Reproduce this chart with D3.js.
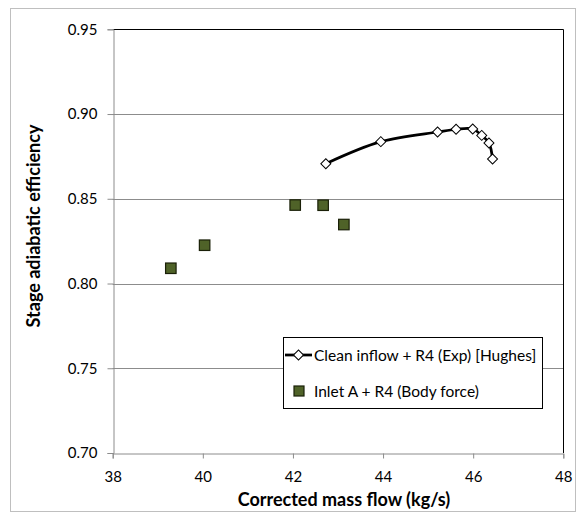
<!DOCTYPE html>
<html>
<head>
<meta charset="utf-8">
<script src="https://cdn.jsdelivr.net/npm/d3@7"></script>
<style>
  body { margin: 0; background: #fff; }
  text { font-family: Lato, "Open Sans", sans-serif; }
</style>
</head>
<body>
<svg id="chart" width="578" height="515"></svg>
<script>
// Clean inflow + R4 (Exp) [Hughes]
var cleanFlow = [42.73, 43.95, 45.21, 45.62, 45.99, 46.19, 46.35, 46.43];
var cleanEff  = [0.8707, 0.8837, 0.8894, 0.8910, 0.8912, 0.8874, 0.8829, 0.8735];

// Inlet A + R4 (Body force)
var inletFlow = [39.29, 40.04, 42.05, 42.67, 43.13];
var inletEff  = [0.809, 0.8226, 0.8463, 0.8462, 0.8348];

var xTicks = [38, 40, 42, 44, 46, 48];
var yTicks = [0.70, 0.75, 0.80, 0.85, 0.90, 0.95];

var seriesNames = ["Clean inflow + R4 (Exp) [Hughes]", "Inlet A + R4 (Body force)"];

var svg = d3.select("#chart");

var margin = {left: 112.7, right: 563.3, top: 29.3, bottom: 453};

var x = d3.scaleLinear().domain([38, 48]).range([margin.left, margin.right]);
var y = d3.scaleLinear().domain([0.70, 0.95]).range([margin.bottom, margin.top]);

// outer frame
svg.append("rect")
    .attr("x", 10.5).attr("y", 8.5)
    .attr("width", 565).attr("height", 503)
    .attr("fill", "none")
    .attr("stroke", "#bfbfbf")
    .attr("stroke-width", 1);

// gridlines
svg.append("g")
  .selectAll("line")
  .data(yTicks.slice(1, -1))
  .enter().append("line")
    .attr("x1", x(38)).attr("x2", x(48))
    .attr("y1", function(d) { return Math.round(y(d)) + 0.5; })
    .attr("y2", function(d) { return Math.round(y(d)) + 0.5; })
    .attr("stroke", "#8c8c8c")
    .attr("stroke-width", 1);

// top and right plot border
svg.append("path")
    .attr("d", "M" + x(38) + "," + (Math.round(y(0.95)) + 0.5) +
               "H" + (Math.round(x(48)) + 0.5) +
               "V" + y(0.70))
    .attr("fill", "none")
    .attr("stroke", "#000")
    .attr("stroke-width", 1);

// axes
var xAxis = svg.append("g")
    .attr("transform", "translate(0," + (Math.round(y(0.70)) + 0.5) + ")")
    .call(d3.axisBottom(x).tickValues(xTicks).tickSize(5).tickPadding(13)
      .tickFormat(d3.format("d")));

var yAxis = svg.append("g")
    .attr("transform", "translate(" + (Math.round(x(38)) + 0.5) + ",0)")
    .call(d3.axisLeft(y).tickValues(yTicks).tickSize(6).tickPadding(10)
      .tickFormat(d3.format(".2f")));

[xAxis, yAxis].forEach(function(a) {
  a.select(".domain").attr("stroke", "#8c8c8c");
  a.selectAll(".tick line").attr("stroke", "#8c8c8c");
  a.selectAll(".tick text")
      .attr("fill", "#000")
      .style("font-size", "15px")
      .style("font-family", "Lato, sans-serif");
});

// axis titles
svg.append("text")
    .attr("x", 344)
    .attr("y", 506)
    .attr("text-anchor", "middle")
    .attr("font-weight", "bold")
    .style("font-size", "18px")
    .text("Corrected mass flow (kg/s)");

svg.append("text")
    .attr("transform", "translate(40,226) rotate(-90)")
    .attr("text-anchor", "middle")
    .attr("font-weight", "bold")
    .style("font-size", "18px")
    .text("Stage adiabatic efficiency");

// clean inflow line
var cleanData = cleanFlow.map(function(d, i) { return [d, cleanEff[i]]; });

var line = d3.line()
    .x(function(d) { return x(d[0]); })
    .y(function(d) { return y(d[1]); })
    .curve(d3.curveCatmullRom.alpha(0.5));

svg.append("path")
    .datum(cleanData)
    .attr("d", line)
    .attr("fill", "none")
    .attr("stroke", "#000")
    .attr("stroke-width", 2.75);

var diamond = d3.symbol().type(d3.symbolSquare).size(50);

svg.append("g")
  .selectAll("path")
  .data(cleanData)
  .enter().append("path")
    .attr("d", diamond)
    .attr("transform", function(d) {
      return "translate(" + x(d[0]) + "," + y(d[1]) + ") rotate(45)";
    })
    .attr("fill", "#fff")
    .attr("stroke", "#000")
    .attr("stroke-width", 1);

// inlet A squares
var inletData = inletFlow.map(function(d, i) { return [d, inletEff[i]]; });

svg.append("g")
  .selectAll("rect")
  .data(inletData)
  .enter().append("rect")
    .attr("x", function(d) { return x(d[0]) - 5.25; })
    .attr("y", function(d) { return y(d[1]) - 5.25; })
    .attr("width", 10.5)
    .attr("height", 10.5)
    .attr("fill", "#4f6228")
    .attr("stroke", "#1a2008")
    .attr("stroke-width", 1.2);

// legend
var lg = svg.append("g").attr("transform", "translate(283,337)");

lg.append("rect")
    .attr("x", 0.5).attr("y", 0.5)
    .attr("width", 259).attr("height", 71)
    .attr("fill", "#fff")
    .attr("stroke", "#000")
    .attr("stroke-width", 1);

lg.append("line")
    .attr("x1", 2).attr("x2", 29)
    .attr("y1", 18).attr("y2", 18)
    .attr("stroke", "#000")
    .attr("stroke-width", 2.75);

lg.append("path")
    .attr("d", diamond)
    .attr("transform", "translate(15.5,18) rotate(45)")
    .attr("fill", "#fff")
    .attr("stroke", "#000");

lg.append("rect")
    .attr("x", 11).attr("y", 49)
    .attr("width", 10).attr("height", 10)
    .attr("fill", "#4f6228")
    .attr("stroke", "#1a2008")
    .attr("stroke-width", 1.2);

lg.selectAll("text.lab")
  .data(seriesNames)
  .enter().append("text")
    .attr("class", "lab")
    .attr("x", 31)
    .attr("y", function(d, i) { return 23.5 + i * 36; })
    .style("font-size", "15.5px")
    .text(function(d) { return d; });
</script>
</body>
</html>
